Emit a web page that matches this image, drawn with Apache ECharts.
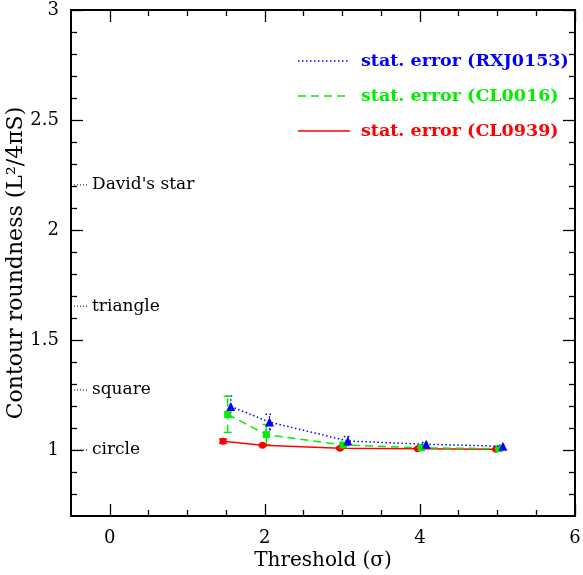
<!DOCTYPE html>
<html>
<head>
<meta charset="utf-8">
<script src="https://cdn.jsdelivr.net/npm/echarts@6/dist/echarts.min.js"></script>
<style>html,body{margin:0;padding:0;background:#fff}#c{width:583px;height:575px}</style>
</head>
<body>
<div id="c"></div>
<script>
// ---- data ----
const seriesNames = ['stat. error (RXJ0153)', 'stat. error (CL0016)', 'stat. error (CL0939)'];
const rxjX   = [1.56, 2.06, 3.07, 4.08, 5.07];
const rxjY   = [1.198, 1.127, 1.041, 1.026, 1.017];
const rxjErr = [0.047, 0.035, 0.020, 0.008, 0.005];
const cl16X   = [1.52, 2.02, 3.01, 4.02, 5.02];
const cl16Y   = [1.162, 1.070, 1.023, 1.010, 1.006];
const cl16Err = [0.082, 0.046, 0.008, 0.005, 0.004];
const cl39X   = [1.46, 1.97, 2.97, 3.97, 4.98];
const cl39Y   = [1.040, 1.022, 1.008, 1.006, 1.003];
const cl39Err = [0.010, 0.004, 0.004, 0.003, 0.003];
const shapeNames  = ['circle', 'square', 'triangle', "David's star"];
const shapeValues = [1.0, 1.273, 1.654, 2.205];
const xMajorTicks = [0, 2, 4, 6];
const xMinorTicks = [0.5, 1, 1.5, 2.5, 3, 3.5, 4.5, 5, 5.5];
const yMajorTicks = [1, 1.5, 2, 2.5, 3];
const yMinorTicks = [0.8, 0.9, 1.1, 1.2, 1.3, 1.4, 1.6, 1.7, 1.8, 1.9, 2.1, 2.2, 2.3, 2.4, 2.6, 2.7, 2.8, 2.9];
const xRange = [-0.5, 6];
const yRange = [0.7, 3];

const FONT = 'DejaVu Serif';
const colors = ['#0000ff', '#00ee00', '#ff0000'];
const dashes = [[1.5, 2.5], [8, 5], null];
const symbols = ['triangle', 'rect', 'circle'];
const symSizes = [9, 7, 7];

function pairs(xs, ys) { return xs.map((x, i) => [x, ys[i]]); }
function errRows(xs, ys, es) { return xs.map((x, i) => [x, ys[i] - es[i], ys[i] + es[i]]); }

function xAx(pos, ticks, len, labels) {
  return {
    type: 'value', min: xRange[0], max: xRange[1], position: pos,
    axisLine: { show: true, onZero: false, lineStyle: { color: '#000', width: 2 } },
    axisTick: { show: true, inside: true, length: len, customValues: ticks, lineStyle: { color: '#000', width: 1.3 } },
    axisLabel: labels ? { show: true, customValues: ticks, color: '#000', fontFamily: FONT, fontSize: 18, margin: 13 } : { show: false },
    splitLine: { show: false }
  };
}
function yAx(pos, ticks, len, labels) {
  return {
    type: 'value', min: yRange[0], max: yRange[1], position: pos,
    axisLine: { show: true, onZero: false, lineStyle: { color: '#000', width: 2 } },
    axisTick: { show: true, inside: true, length: len, customValues: ticks, lineStyle: { color: '#000', width: 1.3 } },
    axisLabel: labels ? { show: true, customValues: ticks, color: '#000', fontFamily: FONT, fontSize: 18, margin: 12 } : { show: false },
    splitLine: { show: false }
  };
}

const xAxes = [xAx('bottom', xMajorTicks, 12, true), xAx('top', xMajorTicks, 12, false),
               xAx('bottom', xMinorTicks, 6, false), xAx('top', xMinorTicks, 6, false)];
xAxes[0].name = 'Threshold (\u03c3)';
xAxes[0].nameLocation = 'middle';
xAxes[0].nameGap = 35;
xAxes[0].nameMoveOverlap = false;
xAxes[0].nameTextStyle = { fontFamily: FONT, fontSize: 20, color: '#000' };
const yAxes = [yAx('left', yMajorTicks, 12, true), yAx('right', yMajorTicks, 12, false),
               yAx('left', yMinorTicks, 6, false), yAx('right', yMinorTicks, 6, false)];
yAxes[0].name = 'Contour roundness (L\u00b2/4\u03c0S)';
yAxes[0].nameLocation = 'middle';
yAxes[0].nameGap = 44;
yAxes[0].nameMoveOverlap = false;
yAxes[0].nameTextStyle = { fontFamily: FONT, fontSize: 22, color: '#000' };

const groups = [[rxjX, rxjY, rxjErr], [cl16X, cl16Y, cl16Err], [cl39X, cl39Y, cl39Err]];
const series = [];

// reference shapes on the left
series.push({
  type: 'custom', name: 'shapes', silent: true, z: 3,
  data: shapeValues.map((v, i) => [xRange[0], v, i]),
  renderItem: function (params, api) {
    const p = api.coord([api.value(0), api.value(1)]);
    const idx = api.value(2);
    return {
      type: 'group', children: [
        { type: 'line', shape: { x1: p[0], y1: p[1], x2: p[0] + 18, y2: p[1] },
          style: { stroke: '#000', lineWidth: 1, lineDash: [1, 2] } },
        { type: 'text', x: p[0] + 21, y: p[1],
          style: { text: shapeNames[idx], fill: '#000', font: '17px "' + FONT + '"', verticalAlign: 'middle', align: 'left' } }
      ]
    };
  }
});

groups.forEach((g, k) => {
  series.push({
    type: 'custom', name: seriesNames[k] + ' err', silent: true, z: 4,
    data: errRows(g[0], g[1], g[2]),
    renderItem: function (params, api) {
      const lo = api.coord([api.value(0), api.value(1)]);
      const hi = api.coord([api.value(0), api.value(2)]);
      const st = { stroke: colors[k], lineWidth: 1.5, lineDash: dashes[k] || null };
      return {
        type: 'group', children: [
          { type: 'line', shape: { x1: lo[0], y1: lo[1], x2: hi[0], y2: hi[1] }, style: st },
          { type: 'line', shape: { x1: lo[0] - 4, y1: lo[1], x2: lo[0] + 4, y2: lo[1] }, style: st },
          { type: 'line', shape: { x1: hi[0] - 4, y1: hi[1], x2: hi[0] + 4, y2: hi[1] }, style: st }
        ]
      };
    }
  });
  series.push({
    type: 'line', name: seriesNames[k], z: 5 + (2 - k),
    data: pairs(g[0], g[1]),
    symbol: symbols[k], symbolSize: symSizes[k], showAllSymbol: true,
    itemStyle: { color: colors[k] },
    lineStyle: { color: colors[k], width: 1.5, type: dashes[k] || 'solid' },
    animation: false
  });
});

// legend drawn as graphics
const legendChildren = [];
seriesNames.forEach((n, k) => {
  const y = 61 + k * 35;
  legendChildren.push({ type: 'line', shape: { x1: 298, y1: y, x2: 350, y2: y },
    style: { stroke: colors[k], lineWidth: 1.5, lineDash: dashes[k] || null } });
  legendChildren.push({ type: 'text', x: 361, y: y,
    style: { text: n, fill: colors[k], font: 'bold 17.5px "' + FONT + '"', verticalAlign: 'middle', align: 'left' } });
});

const chart = echarts.init(document.getElementById('c'), null, { renderer: 'canvas' });
chart.setOption({
  animation: false,
  backgroundColor: '#fff',
  grid: { left: 71, top: 10, width: 504, height: 506, containLabel: false, outerBoundsMode: 'none' },
  xAxis: xAxes,
  yAxis: yAxes,
  series: series,
  graphic: [{ type: 'group', children: legendChildren }]
});
</script>
</body>
</html>
